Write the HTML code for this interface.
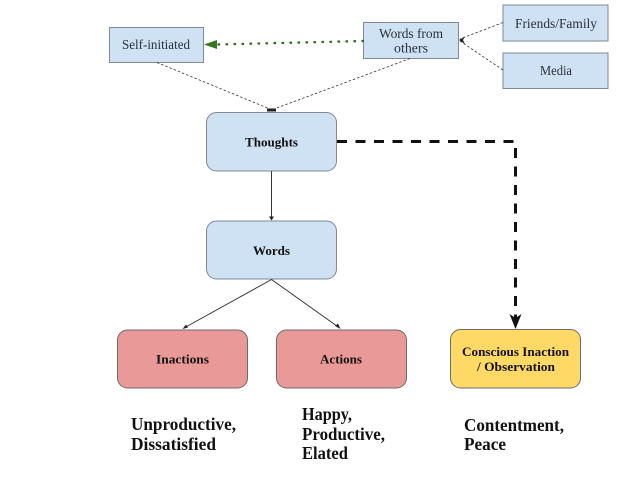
<!DOCTYPE html>
<html><head><meta charset="utf-8"><style>
html,body{margin:0;padding:0;background:#fff;width:640px;height:480px;overflow:hidden}
svg{display:block}
text{font-family:"Liberation Serif",serif;fill:#1a1a1a}
.s{font-size:13.5px;fill:#27313a}
.b{font-size:13px;font-weight:bold;fill:#111}
.l{font-size:17.5px;font-weight:bold;fill:#111}
</style></head><body>
<svg width="640" height="480" viewBox="0 0 640 480" xmlns="http://www.w3.org/2000/svg">
<g stroke="#7f8a94" stroke-width="1" fill="#cfe2f3">
<rect x="109.500" y="27.500" width="94" height="35"/>
<rect x="363.500" y="22.500" width="95" height="36"/>
<rect x="503" y="5" width="105" height="36"/>
<rect x="503" y="53" width="105" height="35.500"/>
<rect x="206.500" y="112.500" width="130" height="58.500" rx="10"/>
<rect x="206.500" y="221" width="130" height="58" rx="10"/>
</g>
<g stroke="#6b6b6b" stroke-width="1">
<rect x="117.500" y="330" width="130" height="58" rx="10" fill="#ea9999"/>
<rect x="276.500" y="330" width="130" height="58" rx="10" fill="#ea9999"/>
<rect x="450.500" y="329.500" width="130" height="58.500" rx="10" fill="#ffd966"/>
</g>
<g fill="none" stroke="#333" stroke-width="0.8" stroke-dasharray="2.500 2">
<path d="M157 62.500L270 109"/>
<path d="M410 58.500L274 109"/>
<path d="M503 22.500L460 39"/>
<path d="M503 70L460 41"/>
</g>
<path d="M267 108.500L276 108.500L276 111.500L267 111.500Z" fill="#222"/>
<path d="M459 40L465 36.500L463 40L465 44Z" fill="#222"/>
<path d="M363 41L218 44.500" fill="none" stroke="#2f6a14" stroke-width="2.400" stroke-linecap="round" stroke-dasharray="0.500 7.500"/>
<path d="M204 44.500L217 40L217 49Z" fill="#38761d"/>
<path d="M271.500 171V217" stroke="#333" stroke-width="1" fill="none"/>
<path d="M271.500 220.500L269 216.500H274Z" fill="#222"/>
<path d="M271.500 279.500L184 328M271.500 279.500L339 327.500" stroke="#333" stroke-width="1" fill="none"/>
<path d="M182.500 329L186 324.500L188 327.500Z M340.500 329L335 326L338 323.500Z" fill="#222"/>
<path d="M337 141.500H515.500V318" fill="none" stroke="#111" stroke-width="3" stroke-dasharray="10 8.500"/>
<path d="M515.500 329L509.500 314L515.500 318L521.500 314Z" fill="#111"/>
<text class="s" x="122" y="49" textLength="68" lengthAdjust="spacingAndGlyphs">Self-initiated</text>
<text class="s" x="379" y="38" textLength="64" lengthAdjust="spacingAndGlyphs">Words from</text>
<text class="s" x="394" y="52.500" textLength="34" lengthAdjust="spacingAndGlyphs">others</text>
<text class="s" x="515" y="28" textLength="82" lengthAdjust="spacingAndGlyphs">Friends/Family</text>
<text class="s" x="540" y="75" textLength="32" lengthAdjust="spacingAndGlyphs">Media</text>
<text class="b" x="245" y="146.500" textLength="53" lengthAdjust="spacingAndGlyphs">Thoughts</text>
<text class="b" x="253" y="255" textLength="37" lengthAdjust="spacingAndGlyphs">Words</text>
<text class="b" x="156" y="363.500" textLength="53" lengthAdjust="spacingAndGlyphs">Inactions</text>
<text class="b" x="320" y="363.500" textLength="42" lengthAdjust="spacingAndGlyphs">Actions</text>
<text class="b" x="462" y="356" textLength="107" lengthAdjust="spacingAndGlyphs">Conscious Inaction</text>
<text class="b" x="477" y="371" textLength="78" lengthAdjust="spacingAndGlyphs">/ Observation</text>
<text class="l" x="131" y="430" textLength="105" lengthAdjust="spacingAndGlyphs">Unproductive,</text>
<text class="l" x="131" y="450" textLength="85" lengthAdjust="spacingAndGlyphs">Dissatisfied</text>
<text class="l" x="302" y="420" textLength="50" lengthAdjust="spacingAndGlyphs">Happy,</text>
<text class="l" x="302" y="440" textLength="83" lengthAdjust="spacingAndGlyphs">Productive,</text>
<text class="l" x="302" y="459" textLength="46" lengthAdjust="spacingAndGlyphs">Elated</text>
<text class="l" x="464" y="431" textLength="100" lengthAdjust="spacingAndGlyphs">Contentment,</text>
<text class="l" x="464" y="450" textLength="42" lengthAdjust="spacingAndGlyphs">Peace</text>
</svg>
</body></html>
